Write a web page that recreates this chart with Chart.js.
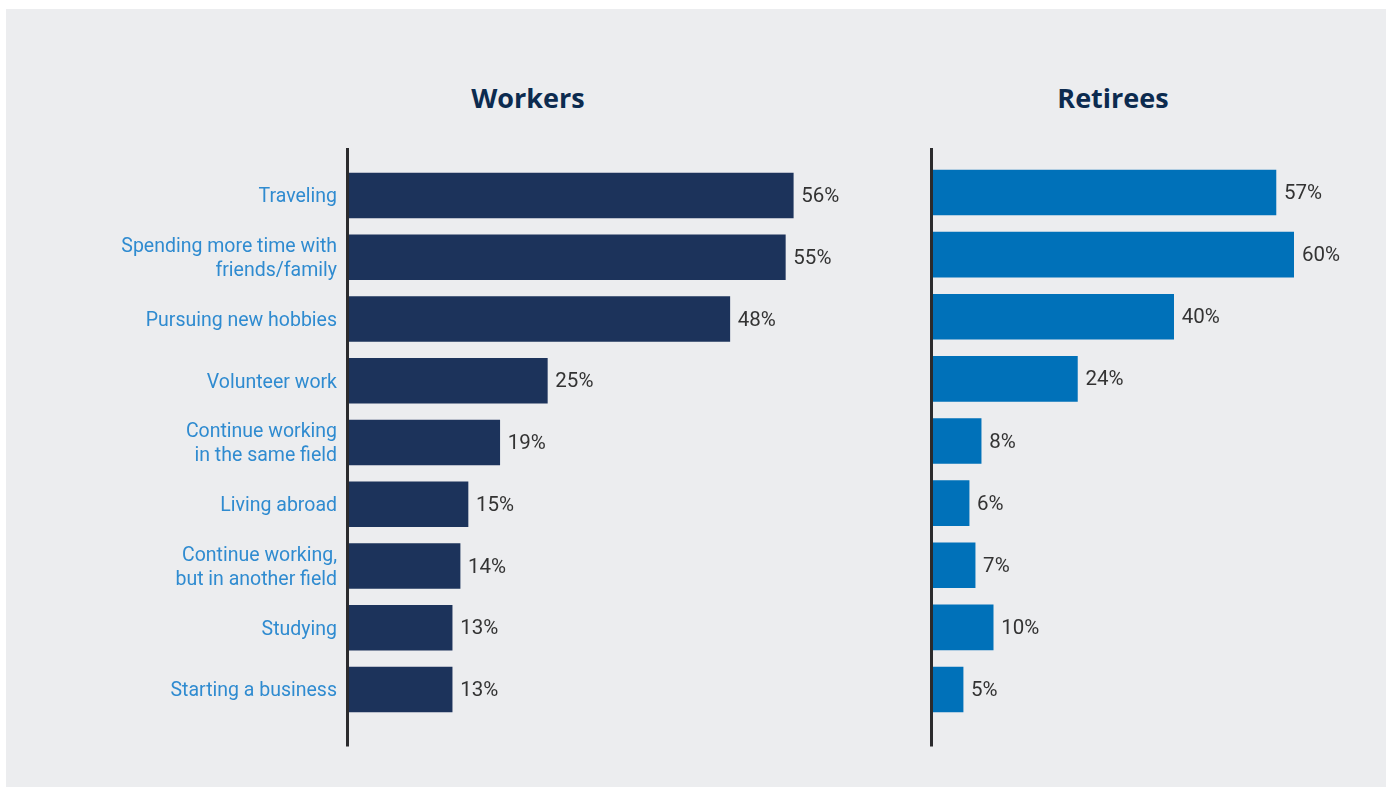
<!DOCTYPE html>
<html>
<head>
<meta charset="utf-8">
<script src="https://cdn.jsdelivr.net/npm/chart.js@4.4.1/dist/chart.umd.min.js"></script>
<style>
  html, body { margin: 0; padding: 0; background: #ffffff; }
  body { width: 1390px; height: 787px; position: relative; overflow: hidden; }
  #panel { position: absolute; left: 6px; top: 9px; width: 1380px; height: 778px; background: #ecedef; }
  .title { position: absolute; top: 79px; width: 300px; text-align: center;
    font-family: "Open Sans", sans-serif; font-weight: 700; font-size: 27px; color: #0c2b4f; }
  #leftWrap { position: absolute; left: 0; top: 0; width: 900px; height: 787px; }
  #rightWrap { position: absolute; left: 900px; top: 0; width: 490px; height: 787px; }
</style>
</head>
<body>
<div id="panel"></div>
<div class="title" style="left:378px">Workers</div>
<div class="title" style="left:963px">Retirees</div>
<div id="leftWrap"><canvas id="workersChart"></canvas></div>
<div id="rightWrap"><canvas id="retireesChart"></canvas></div>
<script>
// Категории (одни и те же для обеих диаграмм)
const categories = [
  'Traveling',
  ['Spending more time with', 'friends/family'],
  'Pursuing new hobbies',
  'Volunteer work',
  ['Continue working', 'in the same field'],
  'Living abroad',
  ['Continue working,', 'but in another field'],
  'Studying',
  'Starting a business',
];
const workersValues = [56, 55, 48, 25, 19, 15, 14, 13, 13];
const retireesValues = [57, 60, 40, 24, 8, 6, 7, 10, 5];

// Подписи значений справа от столбцов + вертикальная линия оси
const barLabels = {
  id: 'barLabels',
  afterDatasetsDraw(chart, args, opts) {
    const ctx = chart.ctx;
    const area = chart.chartArea;
    ctx.save();
    ctx.strokeStyle = '#2b2b2d';
    ctx.lineWidth = 3;
    ctx.beginPath();
    ctx.moveTo(area.left - 1.5, area.top - opts.above);
    ctx.lineTo(area.left - 1.5, area.bottom + opts.below);
    ctx.stroke();

    ctx.fillStyle = '#333333';
    ctx.font = '20.5px Roboto, sans-serif';
    ctx.textAlign = 'left';
    ctx.textBaseline = 'middle';
    const meta = chart.getDatasetMeta(0);
    meta.data.forEach((bar, i) => {
      const v = chart.data.datasets[0].data[i];
      ctx.fillText(v + '%', bar.x + 8, bar.y + 1.5);
    });
    ctx.restore();
  },
};

function makeChart(canvasId, values, color, opts) {
  const ctx = document.getElementById(canvasId).getContext('2d');
  return new Chart(ctx, {
    type: 'bar',
    data: {
      labels: categories,
      datasets: [
        {
          data: values,
          backgroundColor: color,
          borderWidth: 0,
          barThickness: 45,
        },
      ],
    },
    options: {
      indexAxis: 'y',
      responsive: true,
      maintainAspectRatio: false,
      animation: false,
      layout: {
        padding: opts.padding,
      },
      plugins: {
        legend: { display: false },
        tooltip: { enabled: false },
        title: { display: false },
        barLabels: { above: opts.above, below: opts.below },
      },
      scales: {
        x: {
          display: false,
          min: 0,
          max: 60,
        },
        y: {
          display: opts.showLabels,
          grid: { display: false, drawTicks: false, tickLength: 0 },
          border: { display: false },
          ticks: {
            padding: 12,
            labelOffset: 2,
            color: '#2f8bd0',
            font: { family: 'Roboto, sans-serif', size: 19.5, lineHeight: 1.22 },
          },
          afterFit(scale) {
            if (opts.showLabels) scale.width = opts.axisWidth;
          },
        },
      },
    },
    plugins: [barLabels],
  });
}

makeChart('workersChart', workersValues, '#1c335b', {
  showLabels: true,
  axisWidth: 349,
  above: 16.6,
  below: 26,
  padding: { top: 164.6, bottom: 66.6, left: 0, right: 75 },
});

makeChart('retireesChart', retireesValues, '#0071b9', {
  showLabels: false,
  above: 13.4,
  below: 26,
  padding: { top: 161.4, bottom: 66.4, left: 33, right: 96 },
});
</script>
</body>
</html>
